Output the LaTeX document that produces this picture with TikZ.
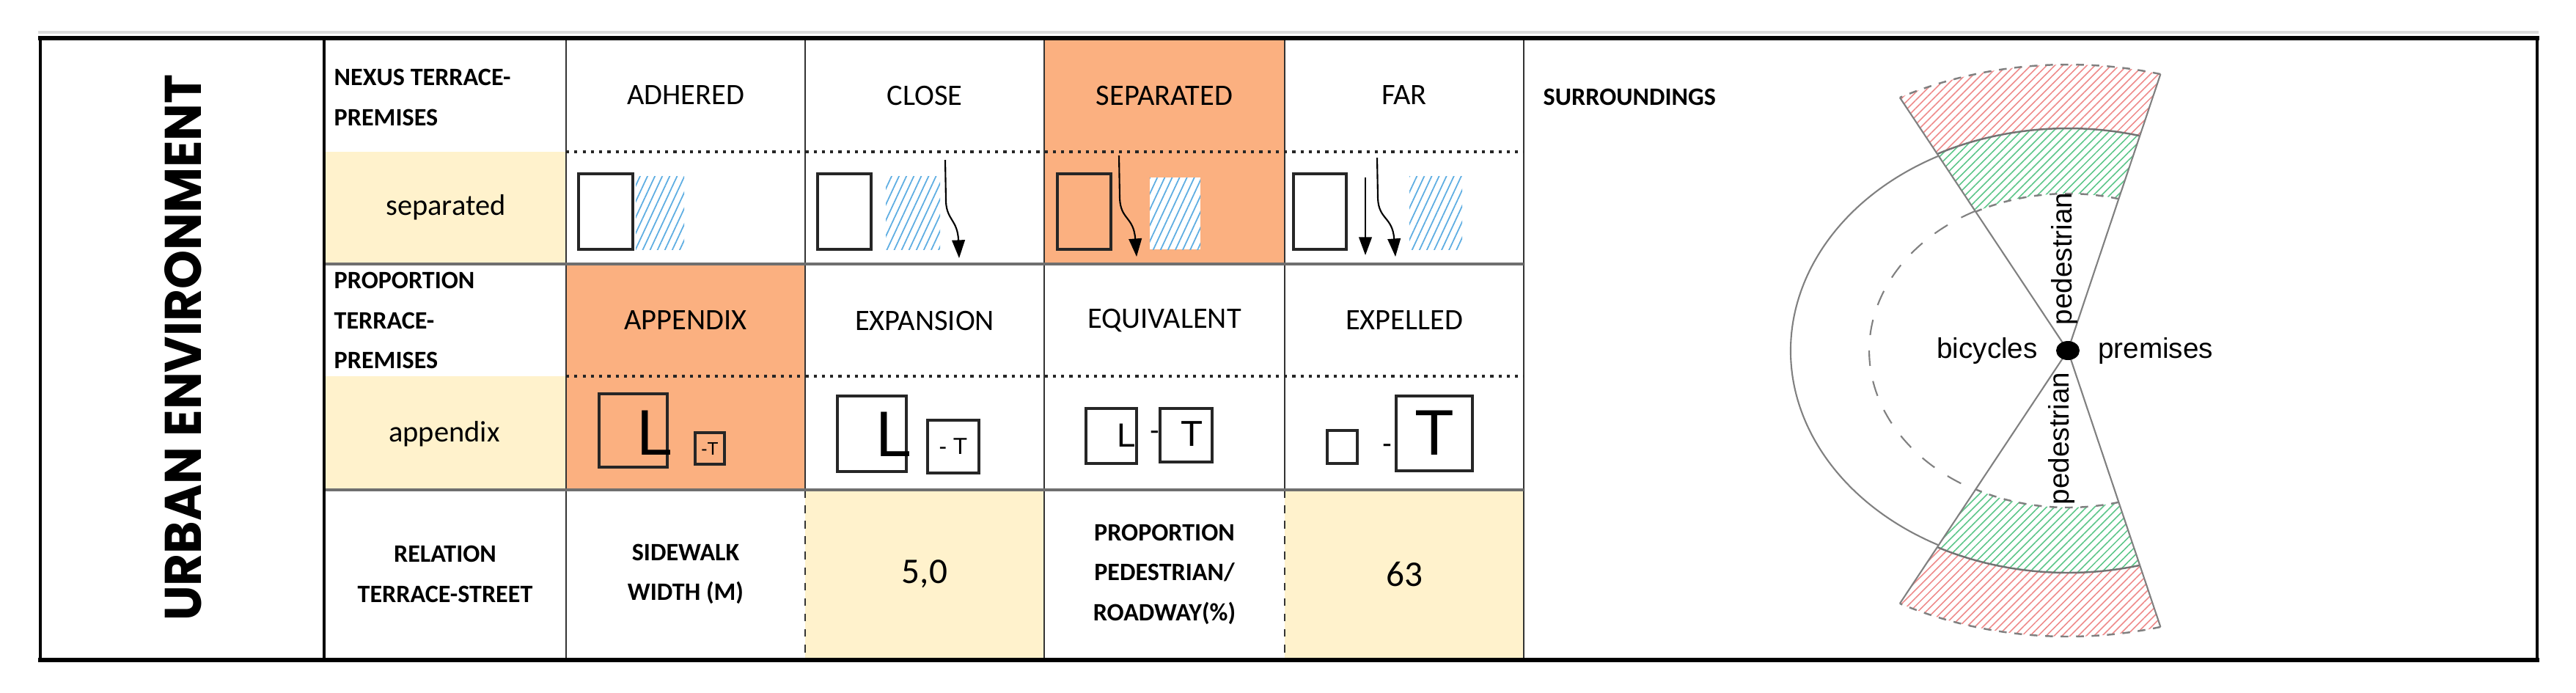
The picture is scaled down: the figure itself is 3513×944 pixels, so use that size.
\documentclass[tikz,border=0pt]{standalone}
\usepackage{fontspec}
\setmainfont{Carlito}
\newfontfamily\arialf{Liberation Sans}
\newfontfamily\urbanf{Poppins}
\usetikzlibrary{arrows.meta,patterns.meta}
\definecolor{org}{HTML}{FBB080}
\definecolor{crm}{HTML}{FFF2CC}
\definecolor{hblue}{HTML}{5DADE2}
\definecolor{hpink}{HTML}{EE8A8A}
\definecolor{hgreen}{HTML}{5CC689}
\definecolor{lgray}{HTML}{6F6F6F}
\begin{document}
\begin{tikzpicture}[x=0.01cm,y=-0.01cm,
  thin line/.style={draw=black!80,line width=0.6pt},
  icon/.style={draw=black!85,line width=1.2pt},
  bluehatch/.style={pattern={Lines[angle=65,distance=2.6pt,line width=0.5pt]},pattern color=hblue},
  arr/.style={black,line width=0.6pt,-{Triangle[length=7pt,width=5pt]}},
  lab/.style={font=\fontsize{11.5}{14}\selectfont,anchor=center},
  hdr/.style={font=\bfseries\fontsize{9.7}{15.5}\selectfont,align=left,anchor=west,inner sep=0pt},
  hdrc/.style={font=\bfseries\fontsize{9.7}{15.5}\selectfont,align=center,inner sep=0pt},
  big/.style={font=\fontsize{14}{16}\selectfont},
  glyph/.style={font=\arialf,inner sep=0pt},
  sur/.style={font=\arialf\fontsize{11}{13}\selectfont,inner sep=1pt}]
\useasboundingbox (0,0) rectangle (3513,944);
% fills
\fill[org] (1424,52) rectangle (1752,360);
\fill[org] (772,360) rectangle (1098,668);
\fill[crm] (442,207) rectangle (772,360);
\fill[crm] (442,513) rectangle (772,668);
\fill[crm] (1098,668) rectangle (1424,898);
\fill[crm] (1752,668) rectangle (2078,898);
% grid
\draw[thin line] (772,52) -- (772,898);
\draw[thin line] (1098,52) -- (1098,668);
\draw[thin line] (1424,52) -- (1424,898);
\draw[thin line] (1752,52) -- (1752,668);
\draw[thin line] (2078,52) -- (2078,898);
\draw[thin line,dashed] (1098,668) -- (1098,898);
\draw[thin line,dashed] (1752,668) -- (1752,898);
\draw[line width=1.2pt,dotted,black!85] (772,207) -- (2078,207);
\draw[line width=1.2pt,dotted,black!85] (772,513) -- (2078,513);
\draw[lgray,line width=1.3pt] (442,360) -- (2078,360);
\draw[lgray,line width=1.3pt] (442,668) -- (2078,668);
\draw[black,line width=1pt] (442,50) -- (442,900);
\draw[black!15,line width=1pt] (52,44) -- (3462,44);
\draw[black,line width=1pt] (55,50) -- (55,900);
\draw[black,line width=1pt] (3460,50) -- (3460,900);
\draw[black,line width=1.6pt] (52,52) -- (3463,52);
\draw[black,line width=1.6pt] (52,900) -- (3463,900);
% texts
\node[rotate=90,font=\urbanf\bfseries] (ue) at (250,474) {\resizebox{7.45cm}{0.5cm}{URBAN ENVIRONMENT}};
\node[hdr] (nx) at (455,133) {NEXUS TERRACE-\\PREMISES};
\node[hdr] (pp) at (455,437) {PROPORTION\\TERRACE-\\PREMISES};
\node[lab] (sep) at (608,283) {separated};
\node[lab] (apx) at (606,592) {appendix};
\node[lab] (c1) at (935,130) {ADHERED};
\node[lab] (c2) at (1261,130) {CLOSE};
\node[lab] (c3) at (1588,130) {SEPARATED};
\node[lab] (c4) at (1915,130) {FAR};
\node[lab] (d1) at (935,437) {APPENDIX};
\node[lab] (d2) at (1261,437) {EXPANSION};
\node[lab] (d3) at (1588,437) {EQUIVALENT};
\node[lab] (d4) at (1915,437) {EXPELLED};
\node[hdrc] (rel) at (607,783) {RELATION\\TERRACE-STREET};
\node[hdrc] (sw) at (935,783) {SIDEWALK\\WIDTH (M)};
\node[big] (v1) at (1261,783) {5,0};
\node[hdrc] (ppr) at (1588,783) {PROPORTION\\PEDESTRIAN/\\ROADWAY(\%)};
\node[big] (v2) at (1915,783) {63};
\node[hdr] (srd) at (2104,132) {SURROUNDINGS};
% row 1 icons
\draw[icon] (789,237) rectangle (863,340);
\fill[bluehatch] (867,240) rectangle (933,340);
\draw[icon] (1115,237) rectangle (1188,340);
\fill[bluehatch] (1208,240) rectangle (1282,340);
\draw[arr] (1289,218) -- (1290,275) .. controls (1291,300) and (1306,300) .. (1308,352);
\draw[icon] (1442,237) rectangle (1515,340);
\draw[arr] (1526,212) -- (1527,270) .. controls (1528,300) and (1546,295) .. (1550,350);
\fill[white] (1568,242) rectangle (1637,340);
\fill[bluehatch] (1568,242) rectangle (1637,340);
\draw[icon] (1764,237) rectangle (1836,340);
\draw[arr] (1862,242) -- (1862,348);
\draw[arr] (1878,215) -- (1879,270) .. controls (1880,300) and (1899,295) .. (1903,350);
\fill[bluehatch] (1922,240) rectangle (1994,340);
% row 2 icons
\draw[icon] (817,537) rectangle (910,637);
\node[glyph,font=\arialf\fontsize{25}{25}\selectfont] (l1) at (893,590) {L};
\draw[icon] (948,590) rectangle (988,633);
\node[glyph,font=\arialf\fontsize{7}{7}\selectfont] (t1) at (968,612) {-T};
\draw[icon] (1142,540) rectangle (1236,643);
\node[glyph,font=\arialf\fontsize{25}{25}\selectfont] (l2) at (1219,592) {L};
\draw[icon] (1265,573) rectangle (1335,645);
\node[glyph,font=\arialf\fontsize{9}{9}\selectfont] (t2) at (1300,609) {- T};
\draw[icon] (1481,557) rectangle (1550,632);
\node[glyph,font=\arialf\fontsize{13}{13}\selectfont] (l3) at (1536,594) {L};
\node[glyph,font=\arialf\fontsize{11}{11}\selectfont] (m3) at (1575,594) {-};
\draw[icon] (1582,557) rectangle (1653,630);
\node[glyph,font=\arialf\fontsize{14}{14}\selectfont] (t3) at (1626,592) {T};
\draw[icon] (1810,587) rectangle (1851,632);
\node[glyph,font=\arialf\fontsize{11}{11}\selectfont] (m4) at (1892,612) {-};
\draw[icon] (1904,540) rectangle (2008,642);
\node[glyph,font=\arialf\fontsize{25}{25}\selectfont] (t4) at (1956,590) {T};
% surroundings diagram
\coordinate (ctr) at (2820,478);
\begin{scope}[shift={(ctr)},xscale=1.26,yscale=-1]
  \fill[pattern={Lines[angle=45,distance=2.2pt,line width=0.45pt]},pattern color=hpink]
    (75.1:303) arc[start angle=75.1,end angle=117.8,radius=303] -- (117.8:390) arc[start angle=117.8,end angle=75.1,radius=390] -- cycle;
  \fill[pattern={Lines[angle=45,distance=2.2pt,line width=0.45pt]},pattern color=hpink]
    (-75.1:303) arc[start angle=-75.1,end angle=-117.8,radius=303] -- (-117.8:390) arc[start angle=-117.8,end angle=-75.1,radius=390] -- cycle;
  \fill[pattern={Lines[angle=45,distance=2.2pt,line width=0.45pt]},pattern color=hgreen]
    (75.1:214) arc[start angle=75.1,end angle=117.8,radius=214] -- (117.8:303) arc[start angle=117.8,end angle=75.1,radius=303] -- cycle;
  \fill[pattern={Lines[angle=45,distance=2.2pt,line width=0.45pt]},pattern color=hgreen]
    (-75.1:214) arc[start angle=-75.1,end angle=-117.8,radius=214] -- (-117.8:303) arc[start angle=-117.8,end angle=-75.1,radius=303] -- cycle;
  \draw[gray,line width=0.7pt,dashed] (75.1:390) arc[start angle=75.1,end angle=117.8,radius=390];
  \draw[gray,line width=0.7pt,dashed] (-75.1:390) arc[start angle=-75.1,end angle=-117.8,radius=390];
  \draw[gray,line width=0.7pt,dashed] (75.1:214) arc[start angle=75.1,end angle=117.8,radius=214];
  \draw[gray,line width=0.7pt,dashed] (-75.1:214) arc[start angle=-75.1,end angle=-117.8,radius=214];
  \draw[gray!90!black,line width=0.7pt] (75.1:303) arc[start angle=75.1,end angle=117.8,radius=303];
  \draw[gray!90!black,line width=0.7pt] (-75.1:303) arc[start angle=-75.1,end angle=-117.8,radius=303];
  \draw[gray,line width=0.6pt] (117.8:300) arc[start angle=117.8,end angle=242.2,radius=300];
  \draw[gray,line width=0.6pt,dash pattern=on 6pt off 6pt] (117.8:215) arc[start angle=117.8,end angle=242.2,radius=215];
  \draw[gray,line width=0.6pt] (117.8:390) -- (0,0) -- (-75.1:390);
  \draw[gray,line width=0.6pt] (75.1:390) -- (0,0) -- (-117.8:390);
\end{scope}
\fill[black] (ctr) ellipse[x radius=16,y radius=13];
\node[sur,anchor=east] (bic) at (2783,478) {bicycles};
\node[sur,anchor=west] (pre) at (2857,478) {premises};
\node[sur,rotate=90] (pd1) at (2815,353) {pedestrian};
\node[sur,rotate=90] (pd2) at (2811,598) {pedestrian};
\end{tikzpicture}
\end{document}
